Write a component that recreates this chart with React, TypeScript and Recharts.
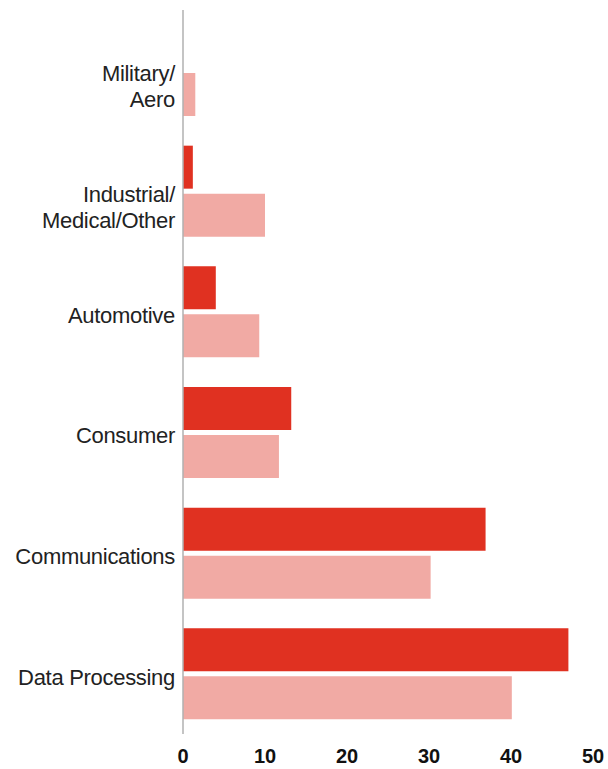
import { BarChart, Bar, XAxis, YAxis } from "recharts";

const categories = [
    "Military/\nAero",
    "Industrial/\nMedical/Other",
    "Automotive",
    "Consumer",
    "Communications",
    "Data Processing",
];
const darkValues = [0, 1.2, 4.0, 13.2, 36.9, 47.0];
const lightValues = [1.5, 10.0, 9.3, 11.7, 30.2, 40.1];
const xTicks = [0, 10, 20, 30, 40, 50];

const data = categories.map((name, i) => ({
    name,
    dark: darkValues[i],
    light: lightValues[i],
}));

const font = "'Liberation Sans', Arial, Helvetica, sans-serif";

function CategoryTick({ x, y, payload }: any) {
    const lines = String(payload.value).split("\n");
    return (
        <text
            x={x}
            y={y + 11}
            textAnchor="end"
            fill="#222"
            fontSize={22}
            fontFamily={font}
            letterSpacing={-0.3}
        >
            {lines.map((line, i) => (
                <tspan key={i} x={x} dy={i === 0 ? 0 : 26}>
                    {line}
                </tspan>
            ))}
        </text>
    );
}

function ValueTick({ x, y, payload }: any) {
    return (
        <text
            x={x}
            y={y + 21}
            textAnchor="middle"
            fill="#111"
            fontSize={20}
            fontWeight="bold"
            fontFamily={font}
        >
            {payload.value}
        </text>
    );
}

export default function App() {
    return (
        <div style={{ position: "absolute", left: 0, top: 0, width: 608, height: 769, background: "#fff" }}>
            <BarChart
                width={608}
                height={769}
                data={data}
                layout="vertical"
                margin={{ top: 10, right: 15, bottom: 0, left: 0 }}
                barCategoryGap={15}
                barGap={5}
            >
                <XAxis
                    type="number"
                    domain={[0, 50]}
                    ticks={xTicks}
                    axisLine={false}
                    tickLine={false}
                    height={35}
                    tick={<ValueTick />}
                    interval={0}
                />
                <YAxis
                    type="category"
                    dataKey="name"
                    width={183}
                    axisLine={{ stroke: "#b0b0b0", strokeWidth: 1.5 }}
                    tickLine={false}
                    tick={<CategoryTick />}
                    interval={0}
                />
                <Bar dataKey="dark" fill="#e03121" isAnimationActive={false} />
                <Bar dataKey="light" fill="#f1aaa4" isAnimationActive={false} />
            </BarChart>
        </div>
    );
}
